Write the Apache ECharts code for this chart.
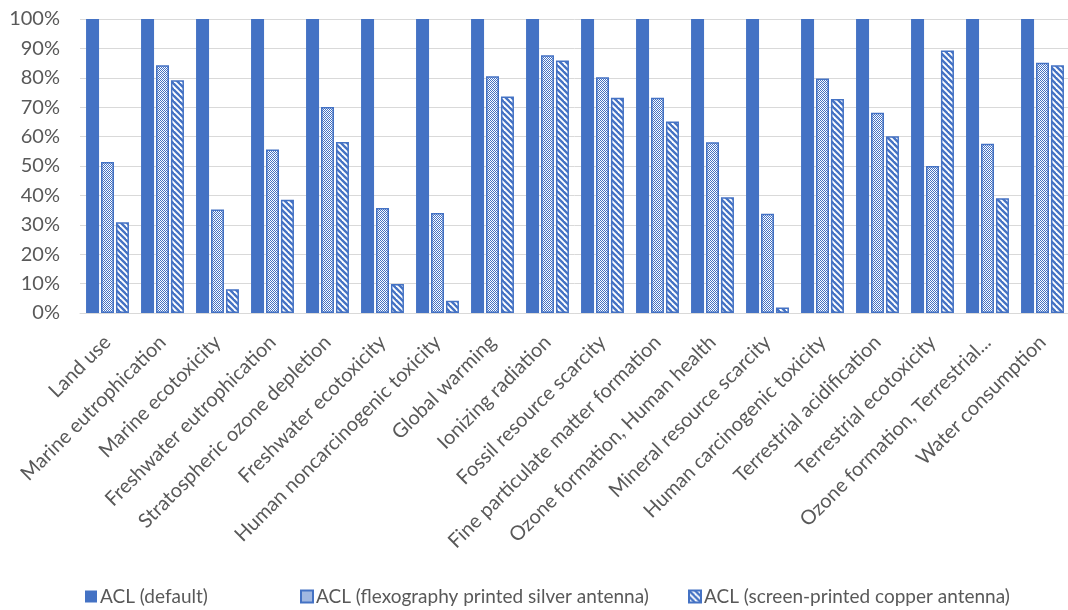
<!DOCTYPE html>
<html>
<head>
<meta charset="utf-8">
<script src="https://cdn.jsdelivr.net/npm/echarts@6/dist/echarts.min.js"></script>
<style>html,body{margin:0;padding:0;background:#fff}#c{width:1068px;height:610px}</style>
</head>
<body>
<div id="c"></div>
<script>
const categories = ["Land use","Marine eutrophication","Marine ecotoxicity","Freshwater eutrophication","Stratospheric ozone depletion","Freshwater ecotoxicity","Human noncarcinogenic toxicity","Global warming","Ionizing radiation","Fossil resource scarcity","Fine particulate matter formation","Ozone formation, Human health","Mineral resource scarcity","Human carcinogenic toxicity","Terrestrial acidification","Terrestrial ecotoxicity","Ozone formation, Terrestrial...","Water consumption"];
const seriesNames = ["ACL (default)","ACL (flexography printed silver antenna)","ACL (screen-printed copper antenna)"];
const defaultVals = [100,100,100,100,100,100,100,100,100,100,100,100,100,100,100,100,100,100];
const silverVals = [51.4,84.3,35.2,55.6,70.1,35.7,34.0,80.5,87.7,80.2,73.2,58.1,33.8,79.8,68.1,50.0,57.6,85.1];
const copperVals = [30.9,79.2,8.1,38.5,58.2,9.9,4.2,73.6,85.9,73.2,65.1,39.4,1.9,72.8,60.1,89.3,39.0,84.3];
const yTicks = [0,10,20,30,40,50,60,70,80,90,100];

const BLUE = '#4472C4';
function checker(){
  const c = document.createElement('canvas'); c.width = 2; c.height = 2;
  const g = c.getContext('2d');
  g.fillStyle = '#fff'; g.fillRect(0,0,2,2);
  g.fillStyle = BLUE; g.fillRect(0,0,1,1); g.fillRect(1,1,1,1);
  return c;
}
function stripes(){
  const s = 6;
  const c = document.createElement('canvas'); c.width = s; c.height = s;
  const g = c.getContext('2d');
  g.fillStyle = '#fff'; g.fillRect(0,0,s,s);
  g.strokeStyle = BLUE; g.lineWidth = 2.4;
  for (let k = -1; k <= 1; k++) {
    g.beginPath(); g.moveTo(k*s - 1, -1); g.lineTo(k*s + s + 1, s + 1); g.stroke();
  }
  return c;
}
const silverPat = {image: checker(), repeat: 'repeat'};
const copperPat = {image: stripes(), repeat: 'repeat'};

const FONT = 'Lato, "Open Sans", sans-serif';
const chart = echarts.init(document.getElementById('c'), null, {renderer: 'canvas'});
const legendCommon = {
  bottom: -1, icon: 'rect', itemWidth: 12, itemHeight: 12, itemGap: 0,
  textStyle: {color: '#595959', fontSize: 19, fontFamily: FONT, padding: [0,0,0,-2]}
};
chart.setOption({
  animation: false,
  grid: {left: 80, top: 19, width: 990, bottom: 297, outerBoundsMode: 'none'},
  legend: [
    Object.assign({left: 80, data: [seriesNames[0]]}, legendCommon),
    Object.assign({left: 295, data: [seriesNames[1]]}, legendCommon),
    Object.assign({left: 683, data: [seriesNames[2]]}, legendCommon)
  ],
  xAxis: {
    type: 'category', data: categories,
    axisLine: {lineStyle: {color: '#d9d9d9', width: 1}},
    axisTick: {show: false},
    axisLabel: {rotate: 45, interval: 0, margin: 26, color: '#595959', fontSize: 20, fontFamily: FONT}
  },
  yAxis: {
    type: 'value', min: yTicks[0], max: yTicks[yTicks.length-1], interval: 10,
    axisLine: {show: false}, axisTick: {show: false},
    splitLine: {lineStyle: {color: '#d9d9d9', width: 1}},
    axisLabel: {formatter: '{value}%', color: '#595959', fontSize: 20, fontFamily: FONT, margin: 20}
  },
  series: [
    {name: seriesNames[0], type: 'bar', data: defaultVals, barWidth: 13, barGap: '15%',
     itemStyle: {color: BLUE}},
    {name: seriesNames[1], type: 'bar', data: silverVals, barWidth: 13, barGap: '15%',
     itemStyle: {color: silverPat, borderColor: BLUE, borderWidth: 1.5}},
    {name: seriesNames[2], type: 'bar', data: copperVals, barWidth: 13, barGap: '15%',
     itemStyle: {color: copperPat, borderColor: BLUE, borderWidth: 1.5}}
  ]
});
</script>
</body>
</html>
